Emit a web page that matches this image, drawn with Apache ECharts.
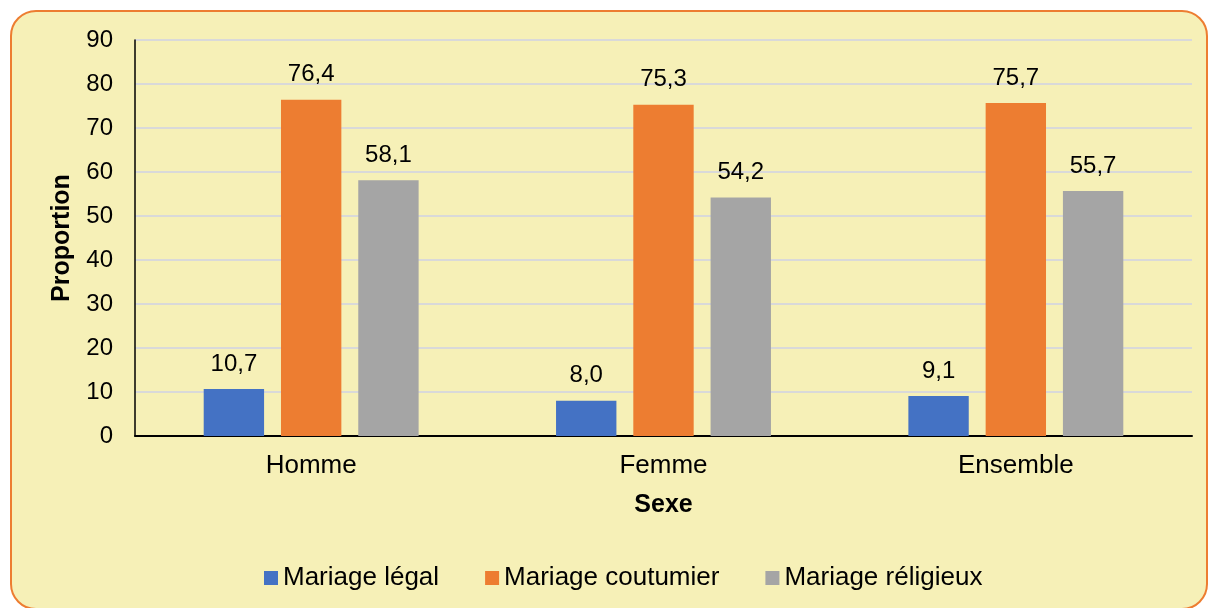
<!DOCTYPE html>
<html>
<head>
<meta charset="utf-8">
<script src="https://cdn.jsdelivr.net/npm/echarts@6/dist/echarts.min.js"></script>
<style>
  html, body { margin: 0; padding: 0; background: #ffffff; }
  #panel {
    position: absolute; left: 10px; top: 10px; width: 1194px; height: 596px;
    background: #F6F0B7; border: 2px solid #ED7D31; border-radius: 26px;
  }
  #chart { position: absolute; left: 0; top: 0; width: 1208px; height: 608px; }
</style>
</head>
<body>
<div id="panel"></div>
<div id="chart"></div>
<script>
var categories = ['Homme', 'Femme', 'Ensemble'];
var legal = [10.7, 8.0, 9.1];
var coutumier = [76.4, 75.3, 75.7];
var religieux = [58.1, 54.2, 55.7];

var font = '"Liberation Sans", Arial, sans-serif';

function fmt(p) {
    return p.value.toFixed(1).replace('.', ',');
}

function bar(name, data, color) {
    return {
        name: name,
        type: 'bar',
        data: data,
        barGap: '28%',
        barCategoryGap: '39%',
        itemStyle: { color: color },
        label: {
            show: true,
            position: 'top',
            distance: 13,
            formatter: fmt,
            color: '#000',
            fontSize: 24,
            fontFamily: font
        }
    };
}

var myChart = echarts.init(document.getElementById('chart'));
var option = {
    backgroundColor: 'transparent',
    animation: false,
    textStyle: { fontFamily: font },
    grid: { left: 135, right: 16, top: 40, bottom: 172 },
    legend: {
        bottom: 12,
        left: 259,
        itemWidth: 14,
        itemHeight: 14,
        itemGap: 46,
        icon: 'rect',
        textStyle: { fontSize: 26, color: '#000', fontFamily: font },
        data: ['Mariage légal', 'Mariage coutumier', 'Mariage réligieux']
    },
    xAxis: {
        type: 'category',
        data: categories,
        name: 'Sexe',
        nameLocation: 'middle',
        nameGap: 57,
        nameTextStyle: { fontSize: 25, fontWeight: 'bold', color: '#000', fontFamily: font },
        axisLine: { lineStyle: { color: '#000', width: 2 } },
        axisTick: { show: false },
        axisLabel: { fontSize: 26, color: '#000', margin: 17, fontFamily: font }
    },
    yAxis: {
        type: 'value',
        min: 0,
        max: 90,
        interval: 10,
        name: 'Proportion',
        nameLocation: 'middle',
        nameGap: 60,
        nameTextStyle: { fontSize: 25, fontWeight: 'bold', color: '#000', fontFamily: font },
        axisLine: { show: true, lineStyle: { color: '#000', width: 1.5 } },
        axisTick: { show: false },
        axisLabel: { fontSize: 24, color: '#000', margin: 22, fontFamily: font },
        splitLine: { lineStyle: { color: '#D9D9D9', width: 2 } }
    },
    series: [
        bar('Mariage légal', legal, '#4472C4'),
        bar('Mariage coutumier', coutumier, '#ED7D31'),
        bar('Mariage réligieux', religieux, '#A5A5A5')
    ]
};
myChart.setOption(option);
</script>
</body>
</html>
